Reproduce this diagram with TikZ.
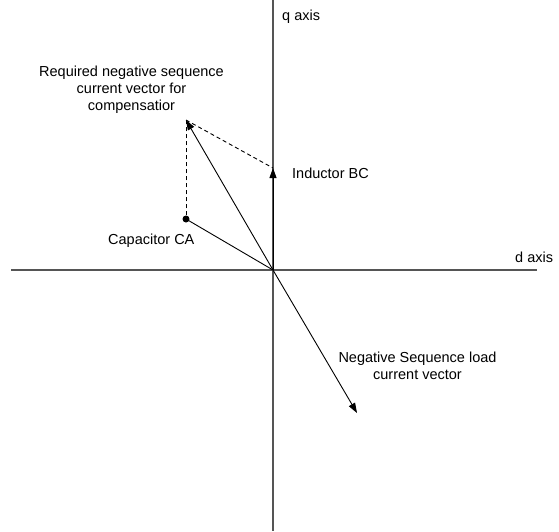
\documentclass[tikz,border=0pt]{standalone}
\usepackage{fontspec}
\setmainfont{Liberation Sans}
\usetikzlibrary{arrows.meta}
\begin{document}
\begin{tikzpicture}[x=1pt,y=-1pt,
  axisline/.style={line width=1.2pt,draw={rgb,255:red,85;green,85;blue,85}},
  vec/.style={line width=0.9pt,draw=black,-{Triangle[length=10pt,width=7pt]}},
  plainvec/.style={line width=0.9pt,draw=black},
  helper/.style={line width=0.9pt,draw=black,dash pattern=on 4pt off 3pt},
  lbl/.style={inner sep=0pt,font=\fontsize{14.5}{17}\selectfont},
  dot/.style={circle,fill=black,inner sep=0pt,minimum size=7pt}]
\useasboundingbox (0,0) rectangle (559,531);
\coordinate (qtop) at (273,0);
\coordinate (qbot) at (273,531);
\coordinate (dleft) at (11,270);
\coordinate (dright) at (537,270);
\coordinate (O) at (273,270);
\coordinate (Ind) at (273,168);
\coordinate (Req) at (186,120);
\coordinate (Load) at (357,413);
\node[dot] (Cap) at (186,219) {};
\draw[axisline] (qtop) -- (qbot);
\draw[axisline] (dleft) -- (dright);
\draw[helper] (Cap) -- (Req);
\draw[helper] (Req) -- (Ind);
\draw[plainvec] (Cap.center) -- (O);
\draw[vec] (O) -- (Ind);
\draw[vec] (O) -- (Req);
\draw[vec] (O) -- (Load);
\node[lbl,anchor=base west] (qlab) at (282,20) {q axis};
\node[lbl,anchor=base west] (dlab) at (515,262) {d axis};
\node[lbl,anchor=base west] (indlab) at (292,178) {Inductor BC};
\node[lbl,anchor=base west] (caplab) at (108,244) {Capacitor CA};
\node[lbl,anchor=north,align=center] (reqlab) at (131.5,65.4) {Required negative sequence\\current vector for\\compensatior};
\node[lbl,anchor=north,align=center] (loadlab) at (417.5,351.5) {Negative Sequence load\\current vector};
\end{tikzpicture}
\end{document}
